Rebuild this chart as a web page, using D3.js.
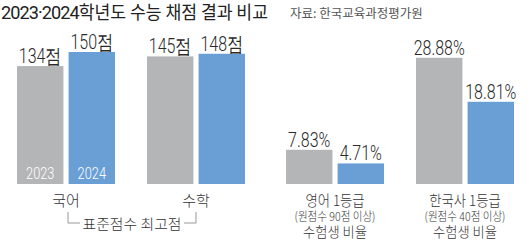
<!DOCTYPE html>
<html>
<head>
<meta charset="utf-8">
<script src="https://cdn.jsdelivr.net/npm/d3@7"></script>
<style>
  html, body { margin: 0; padding: 0; background: #fff; }
  svg { display: block; }
  text { font-family: "Noto Sans CJK KR", "Noto Sans", sans-serif; fill: #333; }
  .num { font-family: Roboto, "Liberation Sans", sans-serif; }
</style>
</head>
<body>
<div id="chart"></div>
<script>
// data
const years = ['2023', '2024'];
const scoreSubjects = ['국어', '수학'];
const scoreValues = { '국어': [134, 150], '수학': [145, 148] };
const rateSubjects = ['영어', '한국사'];
const rateValues = { '영어': [7.83, 4.71], '한국사': [28.88, 18.81] };
const rateNotes = {
  '영어': ['영어 1등급', '(원점수 90점 이상)', '수험생 비율'],
  '한국사': ['한국사 1등급', '(원점수 40점 이상)', '수험생 비율']
};
const colors = { '2023': '#b4b5b7', '2024': '#6a9fd6' };

const W = 530, H = 244;
const base = 184;

const svg = d3.select('#chart').append('svg')
  .attr('width', W)
  .attr('height', H);

// title + source
const title = svg.append('text')
  .attr('x', 1).attr('y', 19)
  .attr('font-size', 18)
  .attr('textLength', 267)
  .attr('lengthAdjust', 'spacingAndGlyphs')
  .style('fill', '#222');
title.append('tspan')
  .attr('class', 'num')
  .attr('font-size', 19)
  .attr('letter-spacing', -1)
  .text(years.join('·'));
title.append('tspan').text('학년도 수능 채점 결과 비교');

svg.append('text')
  .attr('x', 290).attr('y', 18)
  .attr('font-size', 12.5)
  .style('fill', '#555')
  .text('자료: 한국교육과정평가원');

function drawPanel(subjects, values, x0, x1, yMax, yTop, fmt) {
  const x = d3.scaleBand().domain(subjects).range([x0, x1]).paddingInner(0.246);
  const xi = d3.scaleBand().domain(years).range([0, x.bandwidth()]).paddingInner(0.1);
  const y = d3.scaleLinear().domain([0, yMax]).range([base, yTop]);

  const g = svg.append('g');
  subjects.forEach(s => {
    const grp = g.append('g').attr('transform', `translate(${x(s)},0)`);
    const rows = years.map((yr, i) => ({ yr, v: values[s][i] }));
    grp.selectAll('rect')
      .data(rows)
      .join('rect')
      .attr('x', d => xi(d.yr))
      .attr('y', d => y(d.v))
      .attr('width', xi.bandwidth())
      .attr('height', d => base - y(d.v))
      .attr('fill', d => colors[d.yr]);

    grp.selectAll('text.val')
      .data(rows)
      .join('text')
      .attr('class', 'val num')
      .attr('text-anchor', 'middle')
      .attr('transform', d => `translate(${xi(d.yr) + xi.bandwidth() / 2},${y(d.v) - 3}) scale(0.82,1)`)
      .attr('font-size', 19.5)
      .attr('font-weight', 300)
      .style('fill', '#2a2a2a')
      .text(d => fmt(d.v));
  });
  return { x, xi, y };
}

// left panel: 표준점수 최고점
const left = drawPanel(scoreSubjects, scoreValues, 17, 245, 160, 43.2, v => v + '점');
// right panel: 1등급 비율
const right = drawPanel(rateSubjects, rateValues, 286, 514, 30, 52.9, v => v.toFixed(2) + '%');

// year labels inside first pair
years.forEach(yr => {
  svg.append('text')
    .attr('class', 'num')
    .attr('text-anchor', 'middle')
    .attr('transform', `translate(${left.x('국어') + left.xi(yr) + left.xi.bandwidth() / 2},179) scale(0.8,1)`)
    .attr('font-size', 16)
    .attr('font-weight', 300)
    .style('fill', '#fff')
    .text(yr);
});

// subject labels left
scoreSubjects.forEach(s => {
  svg.append('text')
    .attr('x', left.x(s) + left.x.bandwidth() / 2)
    .attr('y', 206)
    .attr('text-anchor', 'middle')
    .attr('font-size', 15)
    .attr('font-weight', 300)
    .text(s);
});

// bracket
const bx1 = left.x('국어') + left.x.bandwidth() / 2 + 2;
const bx2 = left.x('수학') + left.x.bandwidth() / 2;
const bmid = (bx1 + bx2) / 2;
svg.append('path')
  .attr('d', `M${bx1},212 V223 H${bmid - 52} M${bmid + 52},223 H${bx2} V212`)
  .attr('fill', 'none')
  .attr('stroke', '#999')
  .attr('stroke-width', 1);
svg.append('text')
  .attr('x', bmid).attr('y', 229)
  .attr('text-anchor', 'middle')
  .attr('font-size', 14)
  .attr('font-weight', 300)
  .attr('textLength', 99)
  .attr('lengthAdjust', 'spacingAndGlyphs')
  .text('표준점수 최고점');

// notes right
rateSubjects.forEach(s => {
  const cx = right.x(s) + right.x.bandwidth() / 2;
  const lines = rateNotes[s];
  svg.append('text')
    .attr('text-anchor', 'middle')
    .attr('transform', `translate(${cx},206) scale(0.92,1)`)
    .attr('font-size', 14.5)
    .attr('font-weight', 300)
    .text(lines[0]);
  svg.append('text')
    .attr('text-anchor', 'middle')
    .attr('transform', `translate(${cx},220.5) scale(0.88,1)`)
    .attr('font-size', 12)
    .attr('font-weight', 300)
    .text(lines[1]);
  svg.append('text')
    .attr('text-anchor', 'middle')
    .attr('transform', `translate(${cx},236.5) scale(0.95,1)`)
    .attr('font-size', 14)
    .attr('font-weight', 300)
    .text(lines[2]);
});
</script>
</body>
</html>
